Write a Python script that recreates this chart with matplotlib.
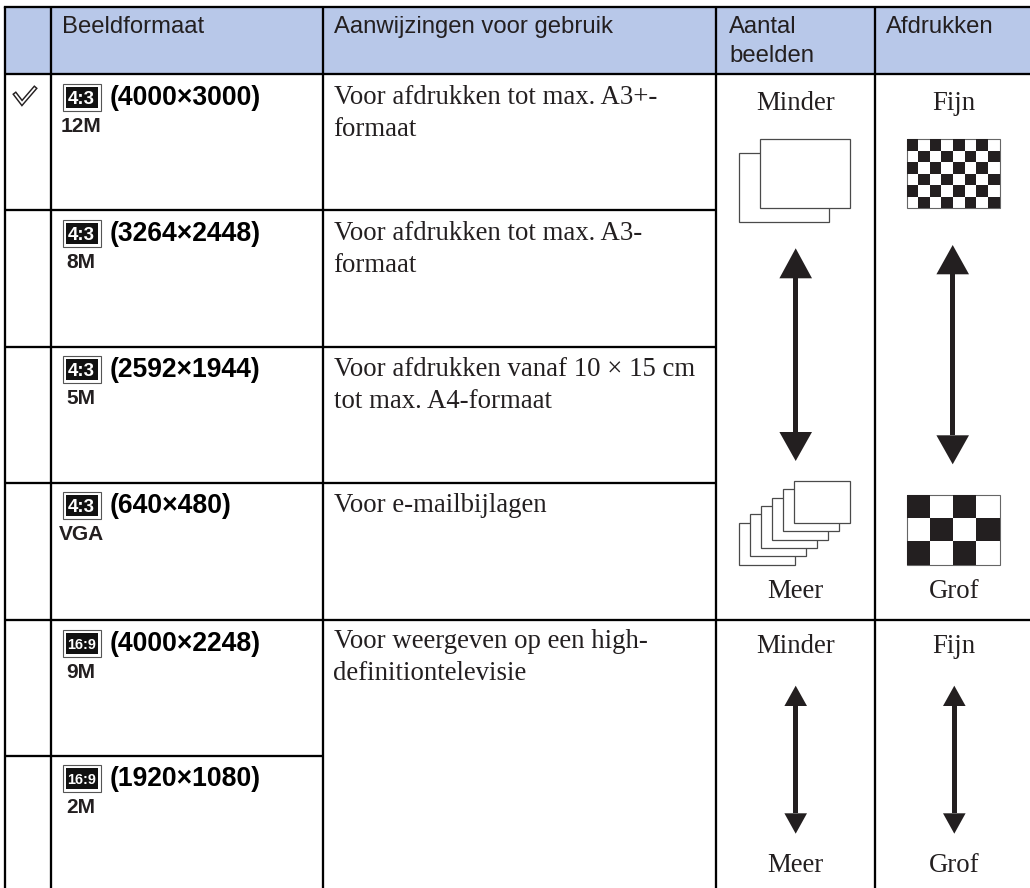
import matplotlib
matplotlib.use("Agg")
import matplotlib.pyplot as plt
from matplotlib.patches import Rectangle, Polygon

# ---- content ----
headers = ["Beeldformaat", "Aanwijzingen voor gebruik", "Aantal\nbeelden", "Afdrukken"]
ratios = ["4:3", "4:3", "4:3", "4:3", "16:9", "16:9"]
megapixels = ["12M", "8M", "5M", "VGA", "9M", "2M"]
sizes = ["(4000×3000)", "(3264×2448)", "(2592×1944)", "(640×480)", "(4000×2248)", "(1920×1080)"]
usage = ["Voor afdrukken tot max. A3+-\nformaat",
         "Voor afdrukken tot max. A3-\nformaat",
         "Voor afdrukken vanaf 10 × 15 cm\ntot max. A4-formaat",
         "Voor e-mailbijlagen",
         "Voor weergeven op een high-\ndefinitiontelevisie"]
aantal_labels = ["Minder", "Meer"]
print_labels = ["Fijn", "Grof"]

# ---- layout (pixels) ----
W, H = 1030, 888
col_x = [5, 51, 323, 716, 875]
row_y = [7, 74.5, 210.5, 346.7, 483, 620, 756]
INK = '#231f20'
BLUE = '#b8c8e9'
LW = 1.65

fig = plt.figure(figsize=(W / 100, H / 100), dpi=100, facecolor='white')
ax = fig.add_axes([0, 0, 1, 1])
ax.set_xlim(0, W)
ax.set_ylim(H, 0)
ax.axis('off')

ax.add_patch(Rectangle((col_x[0], row_y[0]), W - col_x[0], row_y[1] - row_y[0], fc=BLUE, ec='none', zorder=0))

# grid lines
for x in col_x:
    ax.plot([x, x], [row_y[0], H], color='black', lw=LW, solid_capstyle='butt', zorder=3)
ax.plot([col_x[0], W], [row_y[0]] * 2, color='black', lw=LW, solid_capstyle='projecting', zorder=3)
ax.plot([col_x[0], W], [row_y[1]] * 2, color='black', lw=LW, solid_capstyle='butt', zorder=3)
for y in row_y[2:5]:
    ax.plot([col_x[0], col_x[3]], [y, y], color='black', lw=LW, solid_capstyle='butt', zorder=3)
ax.plot([col_x[0], W], [row_y[5]] * 2, color='black', lw=LW, solid_capstyle='butt', zorder=3)
ax.plot([col_x[0], col_x[2]], [row_y[6]] * 2, color='black', lw=LW, solid_capstyle='butt', zorder=3)

SANS = 'Liberation Sans'
SERIF = 'Liberation Serif'
HS = 17.2
BS = 19.1
TS = 19.3

# header
header_x = [62, 333.5, 729.3, 886]
for hx, label in zip(header_x, headers):
    for i, part in enumerate(label.split("\n")):
        ax.text(hx, 33 + i * 28.5, part, family=SANS, fontsize=HS, color=INK, va='baseline', ha='left')

# check mark
chk = [(15.5, 94.5), (22, 103), (34.5, 88.5)]
ax.plot(*zip(*chk), color=INK, lw=3.4, solid_joinstyle='miter', zorder=4)
ax.plot(*zip(*chk), color='white', lw=1.3, solid_joinstyle='miter', zorder=5)

# size column
size_base = [105, 241, 377, 513, 651, 786]
for base, r, mp, s in zip(size_base, ratios, megapixels, sizes):
    top = base - 21
    ax.add_patch(Rectangle((62.5, top), 38, 27, fc='white', ec='#555555', lw=0.8, zorder=2))
    ax.add_patch(Rectangle((65.5, top + 3), 32, 21, fc='#111111', ec='none', zorder=2))
    ax.text(81.5, top + 13.7, r, family=SANS, weight='bold',
            fontsize=10.4 if len(r) > 3 else 13.4, color='white', ha='center', va='center_baseline', zorder=3)
    ax.text(81, base + 27, mp, family=SANS, weight='bold', fontsize=15.0,
            color=INK, ha='center', va='baseline')
    ax.text(110, base, s, family=SANS, weight='bold', fontsize=BS, color='black', ha='left', va='baseline')

# usage column
usage_base = [104.5, 240, 375.7, 511.7, 648]
for base, txt in zip(usage_base, usage):
    for i, part in enumerate(txt.split("\n")):
        ax.text(333.5, base + i * 32, part, family=SERIF, fontsize=TS, color=INK, ha='left', va='baseline')

# scale labels
cx1, cx2 = 795.7, 954
for (top_b, bot_b) in [(110, 598.3), (652.7, 872.3)]:
    ax.text(cx1, top_b, aantal_labels[0], family=SERIF, fontsize=TS, color=INK, ha='center', va='baseline')
    ax.text(cx1, bot_b, aantal_labels[1], family=SERIF, fontsize=TS, color=INK, ha='center', va='baseline')
    ax.text(cx2, top_b, print_labels[0], family=SERIF, fontsize=TS, color=INK, ha='center', va='baseline')
    ax.text(cx2, bot_b, print_labels[1], family=SERIF, fontsize=TS, color=INK, ha='center', va='baseline')


def dbl_arrow(x, t_tip, t_base, b_base, b_tip, hw, sw):
    ax.add_patch(Polygon([(x - hw, t_base), (x, t_tip), (x + hw, t_base)], fc=INK, ec='none'))
    ax.add_patch(Polygon([(x - hw, b_base), (x, b_tip), (x + hw, b_base)], fc=INK, ec='none'))
    ax.add_patch(Rectangle((x - sw / 2, t_base), sw, b_base - t_base, fc=INK, ec='none'))


dbl_arrow(795.7, 248.3, 278.3, 432, 461, 16.3, 5)
dbl_arrow(952.7, 245, 274.3, 435.3, 464.3, 16.3, 5)
dbl_arrow(795.7, 685.7, 706, 813.3, 833.7, 11.3, 4.5)
dbl_arrow(954.3, 685.7, 706, 813.3, 833.7, 11.3, 4.5)


# stacked pictures
def sheet(x, y, w, h, z):
    ax.add_patch(Rectangle((x, y), w, h, fc='white', ec='#4a4a4a', lw=0.9, zorder=z))


sheet(738.5, 152.7, 90.5, 69.6, 2)
sheet(759.5, 139, 90.5, 69.4, 3)
for i in range(6):
    sheet(738.5 + i * 11.1, 522.5 - i * 8.33, 56, 42, 2 + i)


# checkerboards
def checker(x0, y0, x1, y1, nx, ny):
    dx, dy = (x1 - x0) / nx, (y1 - y0) / ny
    ax.add_patch(Rectangle((x0, y0), x1 - x0, y1 - y0, fc='white', ec='#666666', lw=0.8, zorder=2))
    for j in range(ny):
        for i in range(nx):
            if (i + j) % 2 == 0:
                ax.add_patch(Rectangle((x0 + i * dx, y0 + j * dy), dx, dy, fc=INK, ec='none', zorder=3))


checker(906.5, 139, 999.7, 208.5, 8, 6)
checker(906.5, 495, 999.7, 564.7, 4, 3)

fig.savefig('out.png', dpi=100, facecolor='white')
